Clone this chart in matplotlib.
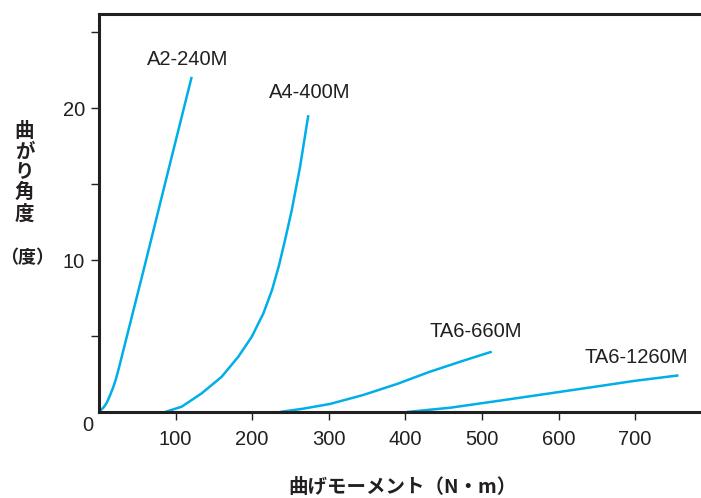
import matplotlib
matplotlib.use("Agg")
import matplotlib.pyplot as plt

plt.rcParams['font.family'] = ['Liberation Sans', 'Noto Sans CJK JP', 'DejaVu Sans']

# Data (bending moment N·m, bending angle deg)
a2_x = [0, 2, 6, 10, 14, 18, 22, 26, 40, 60, 90, 121]
a2_y = [0, 0.12, 0.3, 0.6, 1.05, 1.55, 2.15, 2.9, 5.7, 9.7, 15.8, 22.06]
a4_x = [86.2, 108.0, 134.1, 160.2, 181.9, 199.4, 214.6, 225.9, 235.1, 242.9, 251.7, 262.5, 273.3]
a4_y = [0, 0.35, 1.23, 2.32, 3.64, 4.95, 6.49, 8.03, 9.67, 11.32, 13.29, 16.14, 19.54]
t660_x = [236, 266.8, 301.7, 345, 388.8, 432, 475.8, 512.8]
t660_y = [0, 0.22, 0.53, 1.12, 1.84, 2.65, 3.38, 3.97]
t1260_x = [401.9, 428, 458.4, 523.7, 589, 654, 697.8, 756.6]
t1260_y = [0, 0.13, 0.28, 0.75, 1.23, 1.71, 2.04, 2.41]

series_names = ["A2-240M", "A4-400M", "TA6-660M", "TA6-1260M"]
label_pos = [(116.3, 23.2), (275.5, 21.0), (491.7, 5.3), (701.7, 3.6)]

x_ticks = [100, 200, 300, 400, 500, 600, 700]
y_ticks = [5, 10, 15, 20, 25]
y_ticklabels = ["", "10", "", "20", ""]

dark = "#231f20"
blue = "#00aee8"

fig = plt.figure(figsize=(7.01, 4.98), dpi=100)
ax = fig.add_axes([99/701, (498-412)/498, 1 - 99/701, (412-14)/498])

for xs, ys in [(a2_x, a2_y), (a4_x, a4_y), (t660_x, t660_y), (t1260_x, t1260_y)]:
    ax.plot(xs, ys, color=blue, lw=1.8, solid_capstyle='butt', solid_joinstyle='round')

for name, (lx, ly) in zip(series_names, label_pos):
    ax.text(lx, ly, name, fontsize=14.5, color=dark, ha='center', va='center')

ax.set_xlim(0, 786)
ax.set_ylim(0, 26.2)

ax.spines['right'].set_visible(False)
for s in ['left', 'top', 'bottom']:
    ax.spines[s].set_linewidth(2.2)
    ax.spines[s].set_color(dark)

ax.set_xticks(x_ticks)
ax.set_xticklabels([str(v) for v in x_ticks])
ax.set_yticks(y_ticks)
ax.set_yticklabels(y_ticklabels)
ax.tick_params(axis='x', direction='out', length=6, width=1, color=dark,
               labelsize=14.5, labelcolor=dark, pad=7)
ax.tick_params(axis='y', direction='out', length=6, width=1, color=dark,
               labelsize=14.5, labelcolor=dark, pad=4)

fig.text(88/701, 1 - 425.5/498, "0", fontsize=14.5, color=dark, ha='center', va='center')

# Y label: vertical stacked characters
ylab = "曲がり角度"
centers = [131.5, 152, 172, 192.5, 214]
for ch, cy in zip(ylab, centers):
    fig.text(24.5/701, 1 - cy/498, ch, fontsize=14, color=dark,
             ha='center', va='center', family=['Noto Sans CJK JP'], weight='bold')
fig.text(27.5/701, 1 - 258/498, "（度）", fontsize=13, color=dark,
         ha='center', va='center', family=['Noto Sans CJK JP'], weight='bold')

fig.text(402/701, 1 - 487/498, "曲げモーメント（N・m）", fontsize=14, color=dark,
         ha='center', va='center', family=['Noto Sans CJK JP'], weight='bold')

fig.savefig("out.png", dpi=100)
